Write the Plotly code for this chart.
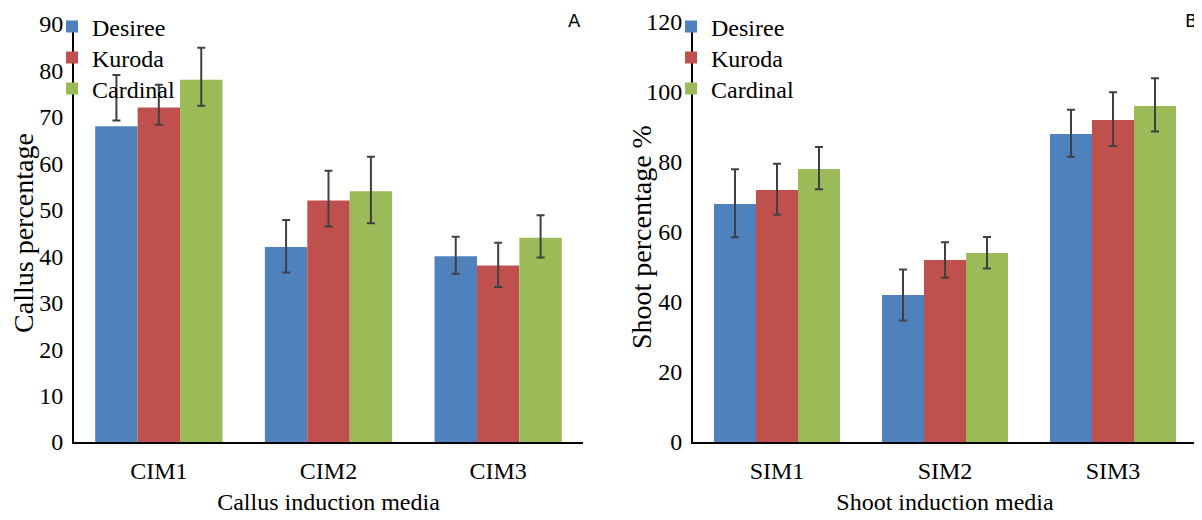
import plotly.graph_objects as go

# page body has an 8px margin: figure occupies window pixels 8..1202 x 8..520
OFF = 8
W, H = 1202 - OFF, 520 - OFF

# ---- data ----
series_names = ["Desiree", "Kuroda", "Cardinal"]
colors = ["#4F81BD", "#C0504D", "#9BBB59"]

cim_categories = ["CIM1", "CIM2", "CIM3"]
cim_desiree = [68, 42, 40]
cim_kuroda = [72, 52, 38]
cim_cardinal = [78, 54, 44]
# error bar ends (low, high)
cim_desiree_lo = [69.2, 36.5, 36.2]
cim_desiree_hi = [79.0, 47.8, 44.2]
cim_kuroda_lo = [68.3, 46.4, 33.4]
cim_kuroda_hi = [76.9, 58.4, 42.9]
cim_cardinal_lo = [72.4, 47.1, 39.7]
cim_cardinal_hi = [84.9, 61.4, 48.8]

sim_categories = ["SIM1", "SIM2", "SIM3"]
sim_desiree = [68, 42, 88]
sim_kuroda = [72, 52, 92]
sim_cardinal = [78, 54, 96]
sim_desiree_lo = [58.5, 34.7, 81.5]
sim_desiree_hi = [77.9, 49.3, 94.9]
sim_kuroda_lo = [64.9, 46.9, 84.6]
sim_kuroda_hi = [79.5, 57.1, 99.9]
sim_cardinal_lo = [72.2, 49.6, 88.7]
sim_cardinal_hi = [84.3, 58.6, 103.9]

FONT = "Liberation Serif, Times New Roman, serif"


def px_x(p):
    return (p - OFF) / W


def px_y(p):
    return 1 - (p - OFF) / H


fig = go.Figure()

panels = [
    ("x", "y", 52, cim_categories,
     [cim_desiree, cim_kuroda, cim_cardinal],
     [cim_desiree_lo, cim_kuroda_lo, cim_cardinal_lo],
     [cim_desiree_hi, cim_kuroda_hi, cim_cardinal_hi]),
    ("x2", "y2", 671, sim_categories,
     [sim_desiree, sim_kuroda, sim_cardinal],
     [sim_desiree_lo, sim_kuroda_lo, sim_cardinal_lo],
     [sim_desiree_hi, sim_kuroda_hi, sim_cardinal_hi]),
]

legends = {}
k = 0
for xa, ya, lgx, cats, vals, los, his in panels:
    for i, (name, col, v, lo, hi) in enumerate(zip(series_names, colors, vals, los, his)):
        k += 1
        lname = "legend" if k == 1 else f"legend{k}"
        legends[lname] = dict(x=px_x(lgx), y=px_y(27 + 31 * i), xanchor="left", yanchor="middle",
                              bgcolor="rgba(0,0,0,0)", font=dict(family=FONT, size=24, color="black"),
                              itemwidth=30, borderwidth=0)
        fig.add_trace(go.Bar(
            x=cats, y=v, name=name, xaxis=xa, yaxis=ya, legend=lname, showlegend=True,
            marker=dict(color=col, line=dict(width=0)),
            error_y=dict(type="data", symmetric=False,
                         array=[h - a for h, a in zip(hi, v)],
                         arrayminus=[a - l for a, l in zip(v, lo)],
                         color="#404040", thickness=2, width=4),
        ))

axis_common = dict(showline=True, linecolor="black", linewidth=2, ticks="",
                   showgrid=False, zeroline=False,
                   tickfont=dict(family=FONT, size=24, color="black"))

x_title_font = dict(family=FONT, size=24, color="black")
y_title_font = dict(family=FONT, size=28, color="black")

fig.update_layout(
    width=W, height=H,
    showlegend=True,
    margin=dict(l=0, r=0, t=0, b=0, autoexpand=False),
    paper_bgcolor="white", plot_bgcolor="white",
    barmode="group", bargap=0.25, bargroupgap=0,
    font=dict(family=FONT, size=24, color="black"),
    xaxis=dict(domain=[px_x(74), px_x(583)], anchor="y", ticklabelstandoff=6,
               title=dict(text="Callus induction media", standoff=10, font=x_title_font),
               **axis_common),
    yaxis=dict(domain=[px_y(442), px_y(24)], anchor="x", range=[0, 90], dtick=10,
               ticklabelstandoff=4,
               title=dict(text="Callus percentage", standoff=5, font=y_title_font),
               **axis_common),
    xaxis2=dict(domain=[px_x(693), px_x(1197)], anchor="y2", ticklabelstandoff=6,
                title=dict(text="Shoot induction media", standoff=10, font=x_title_font),
                **axis_common),
    yaxis2=dict(domain=[px_y(442), px_y(22)], anchor="x2", range=[0, 120], dtick=20,
                ticklabelstandoff=4, **axis_common),
    annotations=[
        dict(text="Shoot percentage %", textangle=-90, x=px_x(641), y=px_y(237),
             xref="paper", yref="paper", xanchor="center", yanchor="middle",
             showarrow=False, font=y_title_font),
        dict(text="A", x=px_x(574), y=px_y(20), xref="paper", yref="paper",
             xanchor="center", yanchor="middle",
             showarrow=False, font=dict(family="DejaVu Sans", size=18, color="black")),
        dict(text="B", x=px_x(1191), y=px_y(20), xref="paper", yref="paper",
             xanchor="center", yanchor="middle",
             showarrow=False, font=dict(family="DejaVu Sans", size=18, color="black")),
    ],
    **legends,
)

fig.write_html("out.html")
